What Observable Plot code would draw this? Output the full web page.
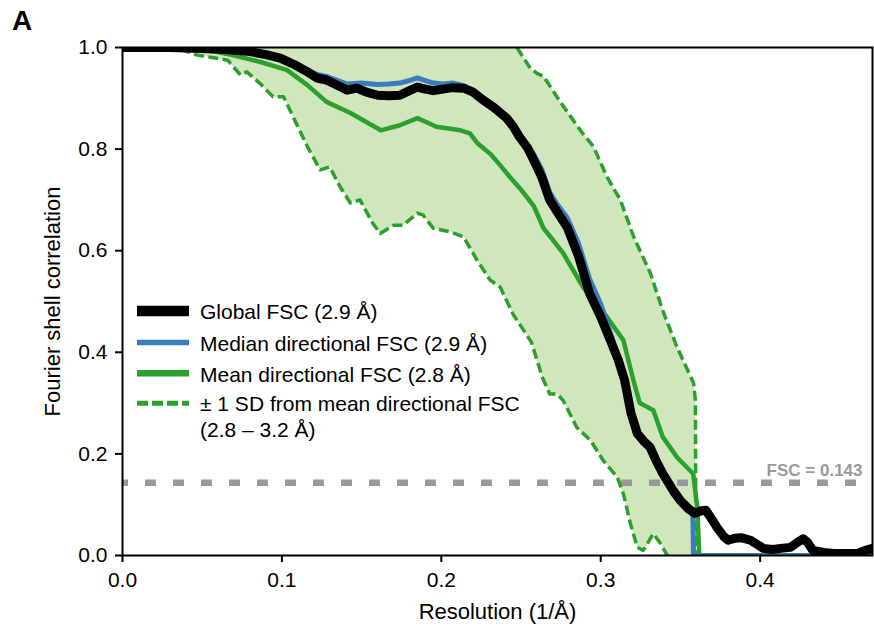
<!DOCTYPE html>
<html>
<head>
<meta charset="utf-8">
<script src="https://cdn.jsdelivr.net/npm/d3@7"></script>
<script src="https://cdn.jsdelivr.net/npm/@observablehq/plot@0.6"></script>
<style>
  html, body { margin: 0; padding: 0; background: #fff; }
  #wrap { position: relative; width: 874px; height: 631px; font-family: "Liberation Sans", Arial, sans-serif; }
  #panel { position: absolute; left: 12px; top: 7px; font-size: 28px; font-weight: bold; line-height: 1; }
  #legend { position: absolute; left: 0; top: 0; pointer-events: none; }
</style>
</head>
<body>
<div id="wrap">
  <div id="chart"></div>
  <div id="panel">A</div>
</div>
<script>
// ---------- data ----------
const xDomain = [0, 0.4705];
const xTicks = [0.0, 0.1, 0.2, 0.3, 0.4];
const yTicks = [0.0, 0.2, 0.4, 0.6, 0.8, 1.0];
const xLabel = "Resolution (1/Å)";
const yLabel = "Fourier shell correlation";
const fscThreshold = 0.143;
const fscLabel = "FSC = 0.143";

const seriesNames = [
  "Global FSC (2.9 Å)",
  "Median directional FSC (2.9 Å)",
  "Mean directional FSC (2.8 Å)",
  "± 1 SD from mean directional FSC",
  "(2.8 – 3.2 Å)"
];

// Global FSC
const globalX = [0, 0.030, 0.050, 0.065, 0.080, 0.090, 0.099, 0.108, 0.116, 0.122, 0.128, 0.135, 0.141, 0.147, 0.153, 0.160, 0.167, 0.174, 0.180, 0.185, 0.190, 0.195, 0.201, 0.207, 0.214, 0.220, 0.226, 0.233, 0.241, 0.245, 0.249, 0.254, 0.258, 0.263, 0.268, 0.273, 0.279, 0.286, 0.293, 0.300, 0.306, 0.311, 0.315, 0.319, 0.323, 0.327, 0.331, 0.335, 0.339, 0.345, 0.350, 0.355, 0.359, 0.363, 0.366, 0.370, 0.373, 0.377, 0.380, 0.384, 0.388, 0.394, 0.398, 0.402, 0.408, 0.413, 0.419, 0.423, 0.427, 0.430, 0.433, 0.440, 0.446, 0.455, 0.461, 0.466, 0.4705];
const globalY = [1.000, 1.000, 0.998, 0.996, 0.992, 0.986, 0.979, 0.966, 0.952, 0.940, 0.936, 0.925, 0.916, 0.920, 0.912, 0.906, 0.905, 0.906, 0.915, 0.922, 0.918, 0.915, 0.918, 0.921, 0.920, 0.912, 0.897, 0.882, 0.861, 0.845, 0.824, 0.803, 0.778, 0.745, 0.700, 0.675, 0.646, 0.590, 0.516, 0.470, 0.424, 0.385, 0.345, 0.280, 0.240, 0.225, 0.213, 0.185, 0.161, 0.130, 0.108, 0.092, 0.083, 0.088, 0.089, 0.070, 0.055, 0.038, 0.030, 0.034, 0.035, 0.030, 0.022, 0.014, 0.012, 0.014, 0.016, 0.025, 0.033, 0.025, 0.010, 0.006, 0.004, 0.004, 0.004, 0.010, 0.014];

// Median directional FSC
const medianX = [0, 0.050, 0.080, 0.099, 0.108, 0.116, 0.122, 0.128, 0.135, 0.141, 0.150, 0.160, 0.167, 0.174, 0.180, 0.185, 0.190, 0.195, 0.201, 0.207, 0.214, 0.220, 0.226, 0.233, 0.241, 0.249, 0.258, 0.263, 0.268, 0.273, 0.279, 0.286, 0.293, 0.300, 0.306, 0.311, 0.315, 0.319, 0.323, 0.327, 0.331, 0.335, 0.341, 0.345, 0.350, 0.355, 0.3578, 0.3582, 0.4705];
const medianY = [1.000, 0.998, 0.993, 0.980, 0.968, 0.955, 0.947, 0.943, 0.935, 0.928, 0.930, 0.927, 0.928, 0.930, 0.935, 0.940, 0.935, 0.930, 0.928, 0.930, 0.925, 0.913, 0.898, 0.883, 0.863, 0.830, 0.790, 0.760, 0.715, 0.690, 0.665, 0.615, 0.545, 0.495, 0.440, 0.390, 0.348, 0.285, 0.245, 0.225, 0.215, 0.190, 0.155, 0.122, 0.104, 0.090, 0.083, 0.000, 0.000];

// Mean directional FSC
const meanX = [0, 0.040, 0.055, 0.069, 0.086, 0.103, 0.116, 0.128, 0.143, 0.162, 0.174, 0.185, 0.197, 0.212, 0.218, 0.2225, 0.231, 0.237, 0.243, 0.2495, 0.258, 0.264, 0.2765, 0.289, 0.304, 0.3142, 0.3205, 0.3245, 0.333, 0.339, 0.348, 0.358, 0.3606, 0.3618, 0.4705];
const meanY = [1.000, 0.998, 0.994, 0.985, 0.972, 0.956, 0.926, 0.893, 0.871, 0.837, 0.847, 0.861, 0.844, 0.837, 0.831, 0.812, 0.790, 0.768, 0.745, 0.722, 0.688, 0.645, 0.595, 0.528, 0.469, 0.424, 0.345, 0.300, 0.286, 0.233, 0.193, 0.161, 0.095, 0.000, 0.000];

// Mean - 1 SD (values below 0 fall outside the axes)
const lowerX = [0, 0.036, 0.047, 0.057, 0.066, 0.074, 0.078, 0.086, 0.0945, 0.101, 0.107, 0.116, 0.124, 0.130, 0.1365, 0.143, 0.149, 0.1535, 0.157, 0.1617, 0.170, 0.176, 0.185, 0.1886, 0.195, 0.2056, 0.214, 0.2225, 0.2307, 0.237, 0.245, 0.2565, 0.2635, 0.268, 0.2727, 0.2765, 0.285, 0.2935, 0.3016, 0.3104, 0.3142, 0.3186, 0.323, 0.3267, 0.333, 0.3374, 0.3418, 0.350, 0.3597];
const lowerY = [1.000, 0.997, 0.985, 0.980, 0.975, 0.946, 0.952, 0.930, 0.903, 0.903, 0.864, 0.805, 0.759, 0.765, 0.726, 0.694, 0.700, 0.674, 0.654, 0.634, 0.650, 0.650, 0.674, 0.670, 0.644, 0.637, 0.627, 0.581, 0.542, 0.528, 0.475, 0.420, 0.350, 0.318, 0.318, 0.305, 0.252, 0.227, 0.187, 0.154, 0.122, 0.063, 0.016, 0.010, 0.043, 0.024, 0.000, -0.030, -0.050];

// Mean + 1 SD (above 1.0 to the left of its first point)
const upperX = [0.2475, 0.2558, 0.260, 0.2642, 0.2746, 0.2872, 0.2954, 0.304, 0.3123, 0.3207, 0.3311, 0.3395, 0.3479, 0.3583, 0.3594, 0.3597];
const upperY = [1.000, 0.959, 0.949, 0.943, 0.893, 0.837, 0.805, 0.745, 0.700, 0.627, 0.556, 0.477, 0.410, 0.339, 0.305, 0.000];

// ---------- colours ----------
const cGlobal = "#000000";
const cMedian = "#3a7dbd";
const cMean = "#2ca02c";
const cBand = "#d0e6bc";
const cThresh = "#999999";

const pts = (xs, ys) => xs.map((x, i) => ({x, y: ys[i]}));
const globalData = pts(globalX, globalY);
const medianData = pts(medianX, medianY);
const meanData = pts(meanX, meanY);
const lowerData = pts(lowerX, lowerY);
const upperData = pts(upperX, upperY);
const bandPolygon = lowerData.concat(upperData.slice().reverse());

const chart = Plot.plot({
  width: 874,
  height: 631,
  marginLeft: 122,
  marginRight: 2,
  marginTop: 47,
  marginBottom: 76,
  style: {fontFamily: "Liberation Sans, Arial, sans-serif", fontSize: "21px", color: "#000", background: "#fff", overflow: "visible"},
  x: {domain: xDomain},
  y: {domain: [0, 1]},
  marks: [
    Plot.line(bandPolygon, {x: "x", y: "y", fill: cBand, stroke: "none", curve: "linear", clip: true}),
    Plot.ruleY([fscThreshold], {stroke: cThresh, strokeWidth: 6.5, strokeDasharray: "11,17", strokeDashoffset: 5}),
    Plot.text([fscThreshold], {x: () => xDomain[1], y: d => d, text: () => fscLabel, textAnchor: "end", dx: -10, dy: -12, fill: cThresh, fontWeight: "bold", fontSize: 17}),
    Plot.line(lowerData, {x: "x", y: "y", stroke: cMean, strokeWidth: 3.5, strokeDasharray: "10,4.5", strokeLinecap: "butt", clip: true}),
    Plot.line(upperData, {x: "x", y: "y", stroke: cMean, strokeWidth: 3.5, strokeDasharray: "10,4.5", strokeLinecap: "butt", clip: true}),
    Plot.line(meanData, {x: "x", y: "y", stroke: cMean, strokeWidth: 4.5, clip: true}),
    Plot.line(medianData, {x: "x", y: "y", stroke: cMedian, strokeWidth: 5, clip: true}),
    Plot.line(globalData, {x: "x", y: "y", stroke: cGlobal, strokeWidth: 9, clip: true}),
    Plot.frame({stroke: "#000", strokeWidth: 2}),
    Plot.axisX({ticks: xTicks, tickFormat: d3.format(".1f"), tickSize: 7, tickPadding: 10, strokeWidth: 2, fontSize: 21,
      label: xLabel, labelAnchor: "center", labelArrow: "none", labelOffset: 63}),
    Plot.axisY({ticks: yTicks, tickFormat: d3.format(".1f"), tickSize: 7, tickPadding: 8, strokeWidth: 2, fontSize: 21,
      label: yLabel, labelAnchor: "center", labelArrow: "none", labelOffset: 78})
  ]
});
document.getElementById("chart").appendChild(chart);
// axis label font size
chart.querySelectorAll("[aria-label='x-axis label'] text, [aria-label='y-axis label'] text").forEach(t => t.setAttribute("font-size", "22"));

// ---------- legend ----------
const ns = "http://www.w3.org/2000/svg";
const leg = document.createElementNS(ns, "svg");
leg.setAttribute("id", "legend");
leg.setAttribute("width", 874);
leg.setAttribute("height", 631);
const legendRows = [
  {name: seriesNames[0], stroke: cGlobal, width: 10.5, dash: null, sy: 311, ty: 318.5},
  {name: seriesNames[1], stroke: cMedian, width: 5.5, dash: null, sy: 342.5, ty: 350.5},
  {name: seriesNames[2], stroke: cMean, width: 6.5, dash: null, sy: 373.3, ty: 381.5},
  {name: seriesNames[3], stroke: cMean, width: 5, dash: "11,4", sy: 403.3, ty: 410.5},
  {name: seriesNames[4], stroke: null, sy: null, ty: 436.5}
];
for (const r of legendRows) {
  if (r.stroke) {
    const l = document.createElementNS(ns, "line");
    l.setAttribute("x1", 137); l.setAttribute("x2", 189);
    l.setAttribute("y1", r.sy); l.setAttribute("y2", r.sy);
    l.setAttribute("stroke", r.stroke);
    l.setAttribute("stroke-width", r.width);
    if (r.dash) l.setAttribute("stroke-dasharray", r.dash);
    leg.appendChild(l);
  }
  const t = document.createElementNS(ns, "text");
  t.setAttribute("x", 200); t.setAttribute("y", r.ty);
  t.setAttribute("font-size", 21);
  t.setAttribute("font-family", "Liberation Sans, Arial, sans-serif");
  t.textContent = r.name;
  leg.appendChild(t);
}
document.getElementById("wrap").appendChild(leg);
</script>
</body>
</html>
